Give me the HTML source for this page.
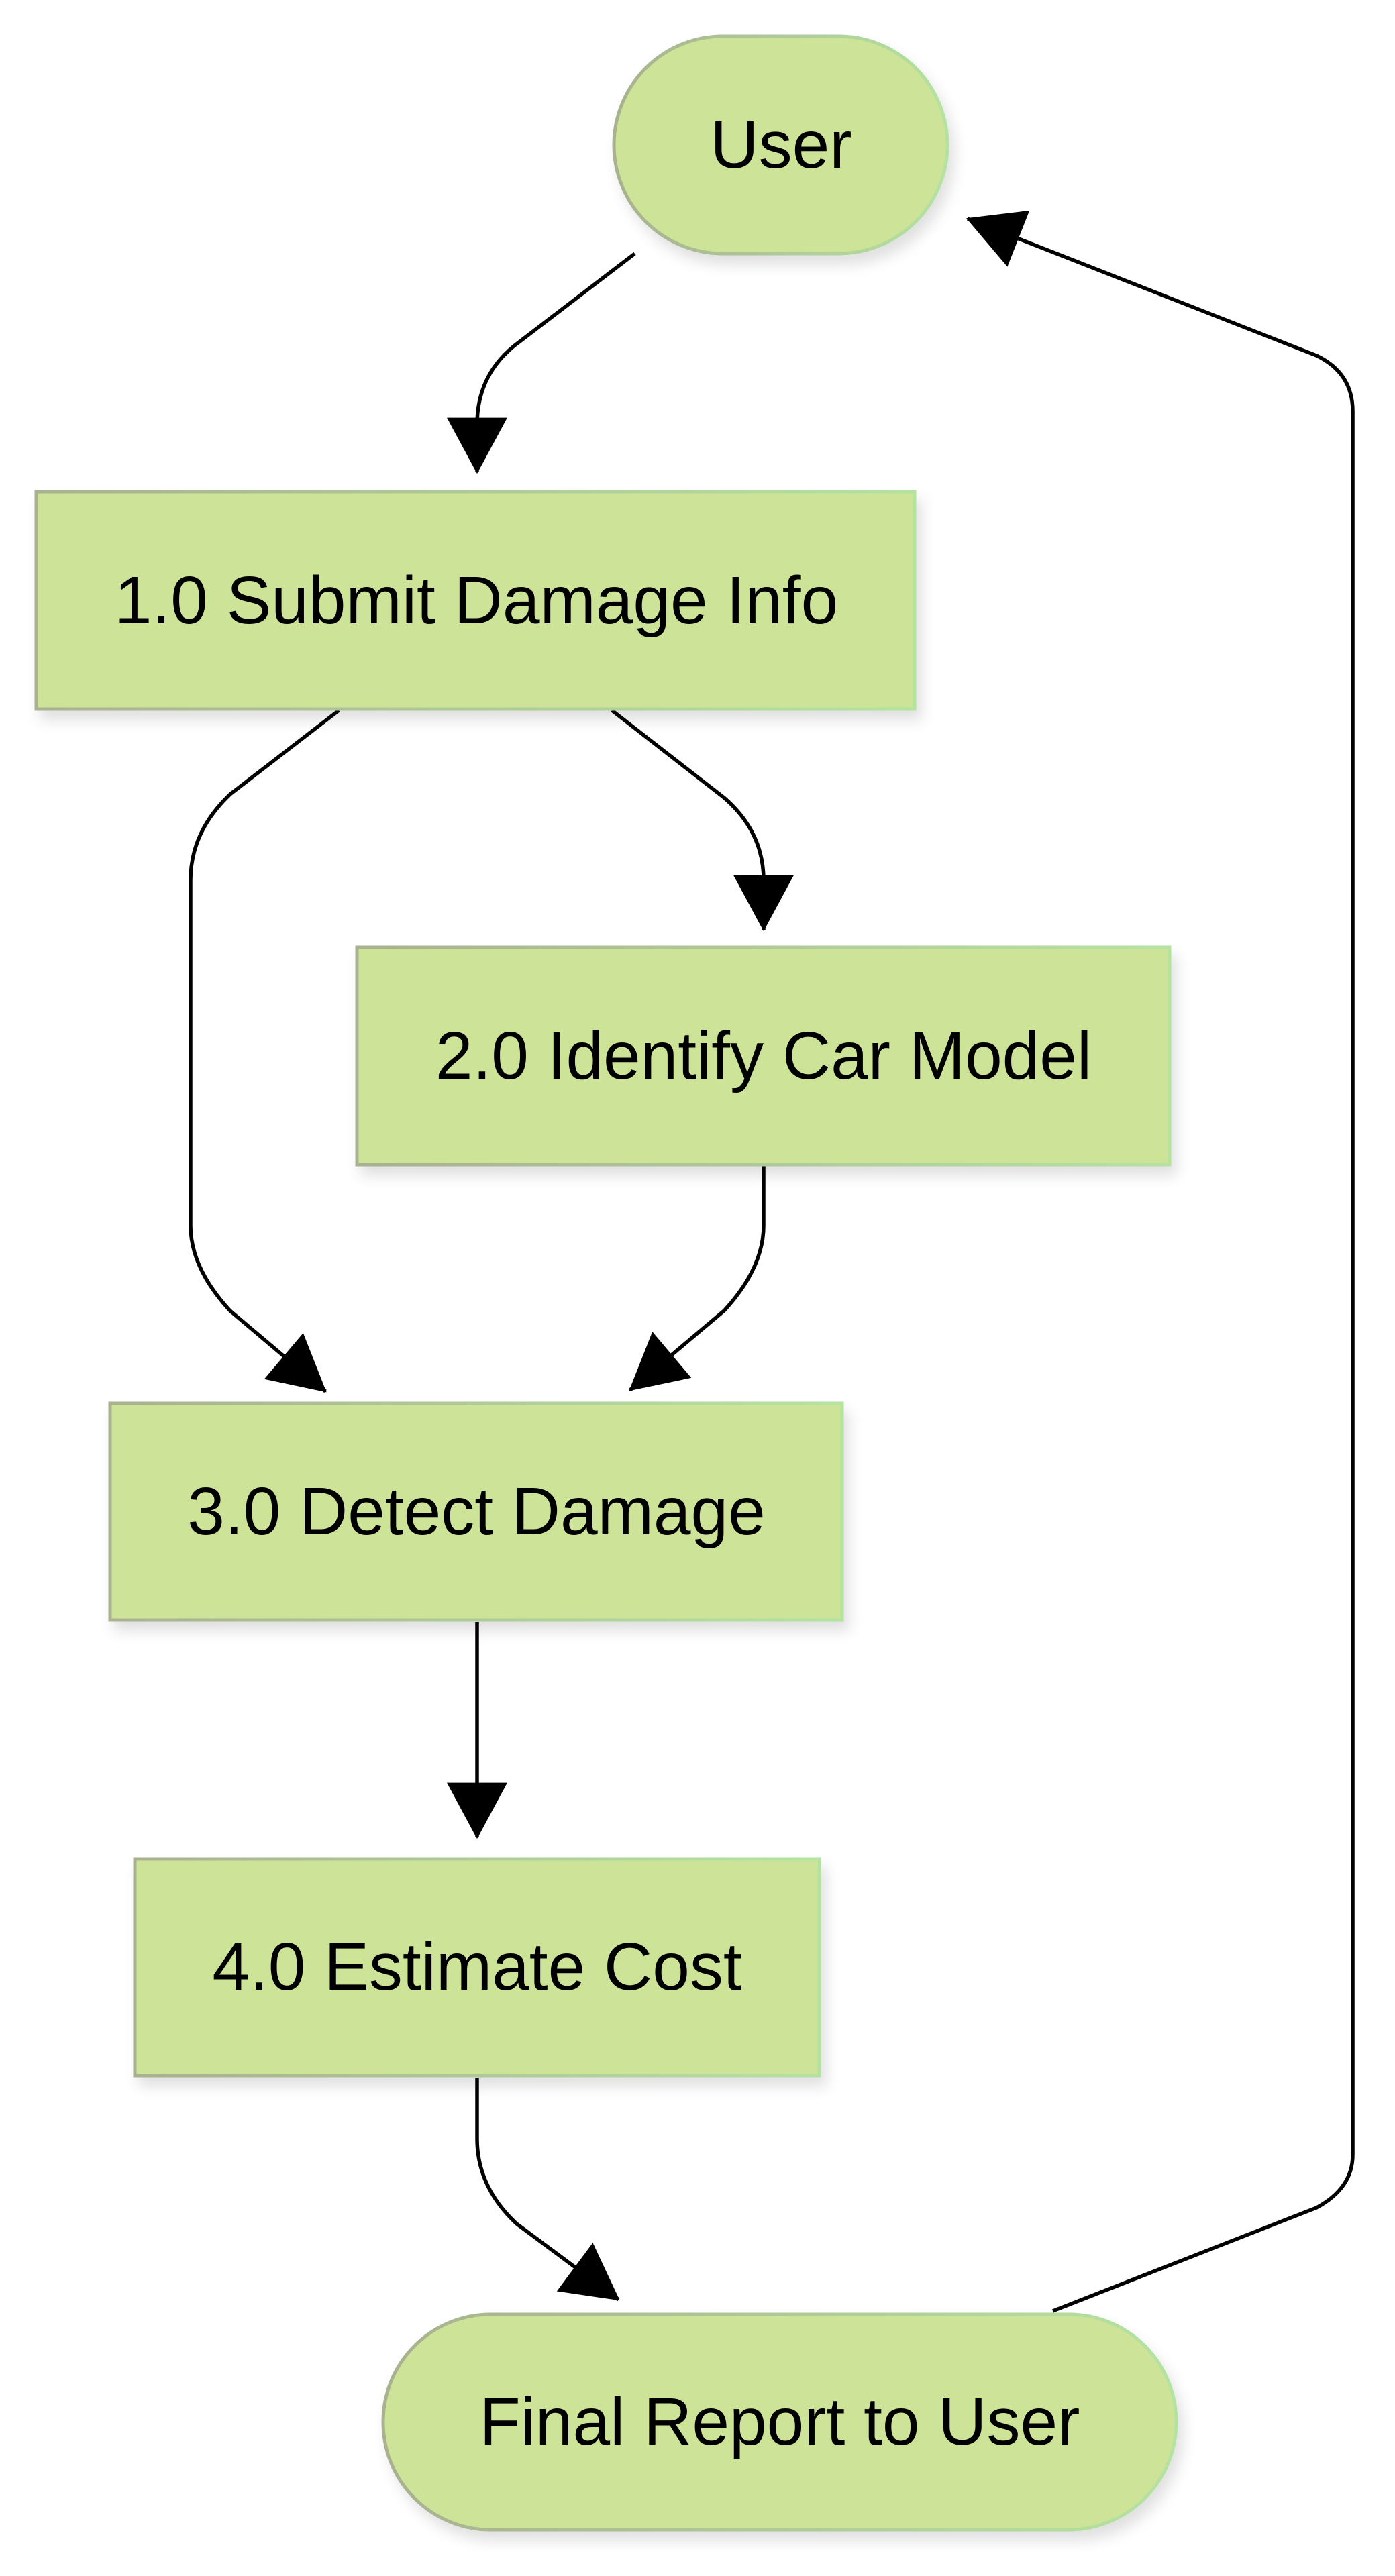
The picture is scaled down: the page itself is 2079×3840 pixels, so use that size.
<!DOCTYPE html>
<html><head><meta charset="utf-8"><style>
html,body{margin:0;padding:0;background:#fff;}
svg{display:block;}
text{font-family:"Liberation Sans",Arial,sans-serif;font-size:100px;fill:#000;text-anchor:middle;dominant-baseline:central;}
</style></head><body>
<svg width="2079" height="3840" viewBox="0 0 2079 3840" xmlns="http://www.w3.org/2000/svg">
<defs>
<linearGradient id="g" x1="0" y1="0" x2="1" y2="0">
<stop offset="0" stop-color="#a9b18f"/><stop offset="1" stop-color="#b4e3a0"/>
</linearGradient>
<filter id="sh" x="-10%" y="-10%" width="130%" height="140%">
<feDropShadow dx="8" dy="14" stdDeviation="10" flood-color="#000" flood-opacity="0.12"/>
</filter>
<marker id="a" markerUnits="userSpaceOnUse" markerWidth="90" markerHeight="90" refX="76" refY="42" orient="auto" viewBox="0 0 80 84">
<path d="M0,0 L78,42 L0,84 Z" fill="#000"/>
</marker>
</defs>
<g fill="none" stroke="#000" stroke-width="5.5">
<path d="M946,378 L767,515 Q711,560 711,633 L711,704" marker-end="url(#a)"/>
<path d="M505,1059 L343,1184 Q284,1240 284,1312 L284,1827 Q284,1890 343,1954 L485,2074" marker-end="url(#a)"/>
<path d="M912,1059 L1079,1189 Q1138,1240 1138,1312 L1138,1386" marker-end="url(#a)"/>
<path d="M1138,1738 L1138,1827 Q1138,1890 1079,1954 L939,2072" marker-end="url(#a)"/>
<path d="M711,2418 L711,2739" marker-end="url(#a)"/>
<path d="M711,3097 L711,3188 Q711,3260 770,3315 L922,3428" marker-end="url(#a)"/>
<path d="M1569,3445 L1962,3291 Q2016,3262 2016,3212 L2016,613 Q2016,556 1962,530 L1442,326" marker-end="url(#a)"/>
</g>
<g fill="#cde498" stroke="url(#g)" stroke-width="5" filter="url(#sh)">
<rect x="915" y="54" width="497" height="324" rx="162" ry="162"/>
<rect x="54" y="733" width="1309" height="324"/>
<rect x="532" y="1412" width="1211" height="324"/>
<rect x="164" y="2092" width="1091" height="323"/>
<rect x="201" y="2771" width="1020" height="323"/>
<rect x="571" y="3450" width="1182" height="321" rx="160" ry="160"/>
</g>
<text x="1164" y="216">User</text>
<text x="710" y="895">1.0 Submit Damage Info</text>
<text x="1138" y="1574">2.0 Identify Car Model</text>
<text x="710" y="2253">3.0 Detect Damage</text>
<text x="711" y="2932">4.0 Estimate Cost</text>
<text x="1162" y="3610">Final Report to User</text>
</svg>
</body></html>
